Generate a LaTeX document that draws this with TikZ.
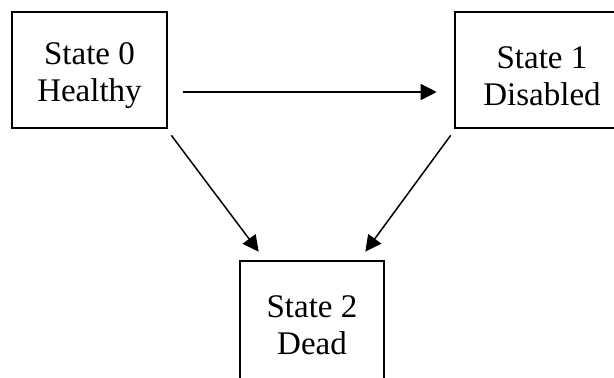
\documentclass[tikz,border=0pt]{standalone}
\usepackage{fontspec}
\setmainfont{Liberation Serif}
\usetikzlibrary{arrows.meta}

\newcommand{\toprule}{\rule{0pt}{17pt}}

\tikzset{
	statebox/.style={shape=rectangle, draw=black, line width=1.3pt, inner sep=0pt,
		minimum height=58pt, align=center, font=\fontsize{16.5}{18.5}\selectfont},
	flow/.style={-{Triangle[length=8pt,width=8pt]}, line width=0.75pt, black}
}

\begin{document}
\begin{tikzpicture}[x=0.5pt,y=-0.5pt]
			\useasboundingbox (0,0) rectangle (614,377);
			\node[statebox, minimum width=77.5pt] (s0) at (89.5,70) {\toprule State 0\\Healthy};
			\node[statebox, minimum width=87pt] (s1) at (542,70) {\toprule State 1\\Disabled};
			\node[statebox, minimum width=72pt, minimum height=64pt] (s2) at (312,325) {State 2\\Dead};

			%% transitions
			\draw[flow] ([xshift=7.5pt,yshift=-11pt]s0.east) -- ([xshift=-8.5pt,yshift=-11pt]s1.west);
			\draw[flow] ([xshift=1.5pt,yshift=-3pt]s0.south east) -- ([xshift=10pt,yshift=4pt]s2.north west);
			\draw[flow] ([xshift=-1.5pt,yshift=-3pt]s1.south west) -- ([xshift=-10pt,yshift=4pt]s2.north east);
		\end{tikzpicture}
\end{document}
